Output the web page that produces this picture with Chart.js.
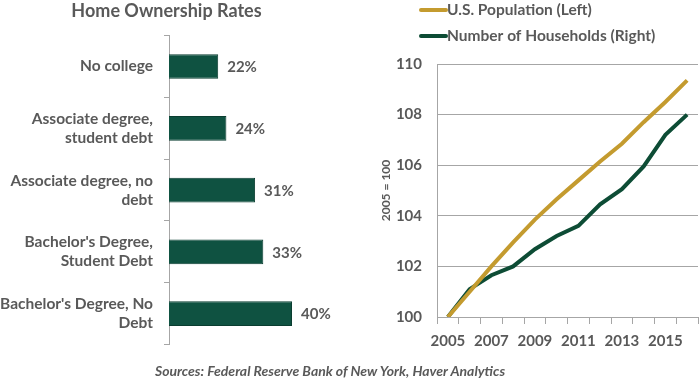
<!DOCTYPE html>
<html>
<head>
<meta charset="utf-8">
<script src="https://cdn.jsdelivr.net/npm/chart.js@4"></script>
<style>
  body { margin: 0; background: #fff; }
  #wrap { position: relative; width: 700px; height: 381px; overflow: hidden; }
  #ownership { position: absolute; left: 0; top: 0; }
  #growth { position: absolute; left: 360px; top: 0; }
  #source {
    position: absolute; left: 0; width: 660px; top: 362px;
    text-align: center; font: italic bold 14px Lato, sans-serif; color: #595959;
  }
</style>
</head>
<body>
<div id="wrap">
  <canvas id="ownership" width="345" height="365"></canvas>
  <canvas id="growth" width="340" height="361"></canvas>
  <div id="source">Sources: Federal Reserve Bank of New York, Haver Analytics</div>
</div>
<script>
const groupLabels = [
    ["No college"],
    ["Associate degree,", "student debt"],
    ["Associate degree, no", "debt"],
    ["Bachelor's Degree,", "Student Debt"],
    ["Bachelor's Degree, No", "Debt"]
];
const ownershipRates = [22, 24, 31, 33, 40];

const years = ["2005", "2006", "2007", "2008", "2009", "2010", "2011", "2012", "2013", "2014", "2015", "2016"];
const population = [100, 101.0, 102.0, 102.95, 103.85, 104.65, 105.4, 106.15, 106.85, 107.7, 108.5, 109.35];
const households = [100, 101.1, 101.65, 102.0, 102.68, 103.2, 103.6, 104.45, 105.05, 105.95, 107.2, 108.0];

const textGray = '#595959';
const axisGray = '#a6a6a6';

// percentages next to each bar
const barValueLabels = {
    id: 'barValueLabels',
    afterDatasetsDraw(chart) {
        const ctx = chart.ctx;
        const meta = chart.getDatasetMeta(0);
        ctx.save();
        ctx.font = 'bold 15px Lato';
        ctx.fillStyle = textGray;
        ctx.textAlign = 'left';
        ctx.textBaseline = 'middle';
        meta.data.forEach(function (bar, i) {
            ctx.fillText(chart.data.datasets[0].data[i] + '%', bar.x + 9, bar.y + 1);
        });
        ctx.restore();
    }
};

// stacked legend above the line chart
const lineLegend = {
    id: 'lineLegend',
    afterDraw(chart) {
        const ctx = chart.ctx;
        ctx.save();
        ctx.font = 'bold 15.5px Lato';
        ctx.textBaseline = 'middle';
        chart.data.datasets.forEach(function (ds, i) {
            const y = 10 + i * 26;
            ctx.strokeStyle = ds.borderColor;
            ctx.lineWidth = 4;
            ctx.lineCap = 'round';
            ctx.beginPath();
            ctx.moveTo(61, y);
            ctx.lineTo(86, y);
            ctx.stroke();
            ctx.fillStyle = textGray;
            ctx.fillText(ds.label, 87, y);
        });
        ctx.restore();
    }
};

new Chart(document.getElementById('ownership'), {
    type: 'bar',
    data: {
        labels: groupLabels,
        datasets: [{
            data: ownershipRates,
            backgroundColor: '#0f5241',
            borderColor: '#0a3d30',
            borderWidth: 1,
            barPercentage: 0.4,
            categoryPercentage: 1
        }]
    },
    options: {
        indexAxis: 'y',
        responsive: false,
        animation: false,
        layout: { padding: { top: 0, right: 12, bottom: 8, left: 0 } },
        scales: {
            x: { display: false, min: 10, max: 50 },
            y: {
                afterFit: function (scale) { scale.width = 169; },
                grid: { drawOnChartArea: false, tickLength: 5, color: axisGray, offset: true },
                border: { color: axisGray },
                ticks: {
                    padding: 11,
                    color: textGray,
                    font: { family: 'Lato', size: 15.5, weight: 'bold', lineHeight: 1.22 }
                }
            }
        },
        plugins: {
            legend: { display: false },
            tooltip: { enabled: false },
            title: {
                display: true,
                text: 'Home Ownership Rates',
                color: textGray,
                padding: { top: 0, bottom: 14 },
                font: { family: 'Lato', size: 18, weight: 'bold' }
            }
        }
    },
    plugins: [barValueLabels]
});

new Chart(document.getElementById('growth'), {
    type: 'line',
    data: {
        labels: years,
        datasets: [
            {
                label: 'U.S. Population (Left)',
                data: population,
                borderColor: '#c49b2f',
                borderWidth: 4,
                pointRadius: 0
            },
            {
                label: 'Number of Households (Right)',
                data: households,
                borderColor: '#0d4c35',
                borderWidth: 4,
                pointRadius: 0
            }
        ]
    },
    options: {
        responsive: false,
        animation: false,
        layout: { padding: { top: 64, right: 2, bottom: 3, left: 0 } },
        scales: {
            x: {
                offset: true,
                grid: { drawOnChartArea: false, tickLength: 7, color: axisGray, offset: true },
                border: { color: axisGray },
                ticks: {
                    autoSkip: false,
                    maxRotation: 0,
                    padding: 8,
                    color: textGray,
                    font: { family: 'Lato', size: 15, weight: 'bold' },
                    callback: function (value, index) {
                        return index % 2 === 0 ? this.getLabelForValue(value) : '';
                    }
                }
            },
            y: {
                min: 100,
                max: 110,
                afterFit: function (scale) { scale.width = 77; },
                grid: { color: axisGray, drawTicks: false },
                border: { color: axisGray },
                ticks: {
                    stepSize: 2,
                    padding: 15,
                    color: textGray,
                    font: { family: 'Lato', size: 15, weight: 'bold' }
                },
                title: {
                    display: true,
                    text: '2005 = 100',
                    color: textGray,
                    padding: { top: 19, bottom: 0 },
                    font: { family: 'Lato', size: 12, weight: 'bold' }
                }
            }
        },
        plugins: {
            legend: { display: false },
            tooltip: { enabled: false }
        }
    },
    plugins: [lineLegend]
});
</script>
</body>
</html>
